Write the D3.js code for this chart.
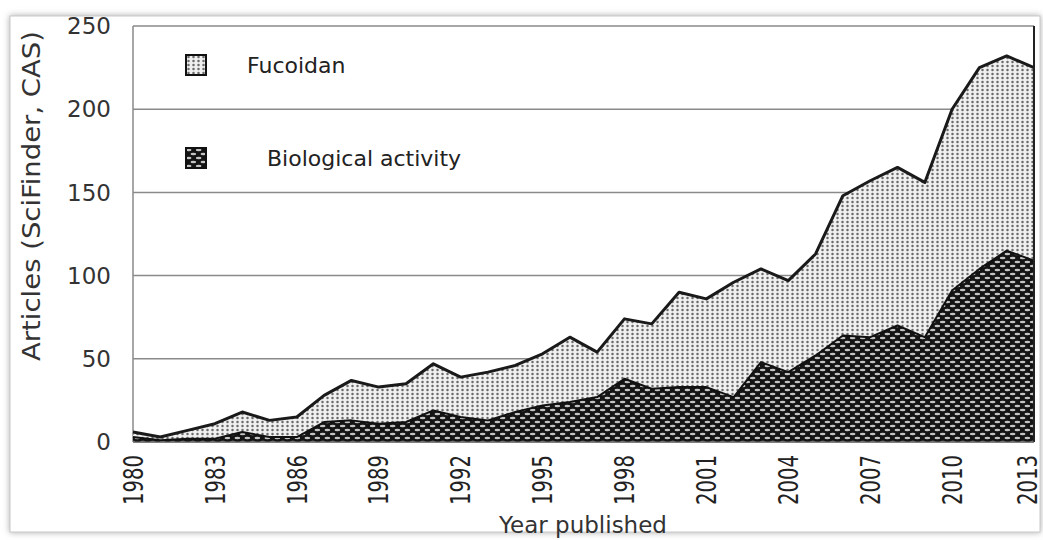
<!DOCTYPE html>
<html>
<head>
<meta charset="utf-8">
<script src="https://cdn.jsdelivr.net/npm/d3@7"></script>
<style>
  body { margin: 0; background: #fff; }
  svg { display: block; }
</style>
</head>
<body>
<svg width="1043" height="540"></svg>
<script>
const width = 1043, height = 540;

const years = d3.range(1980, 2014);
const fucoidan = [6, 3, 7, 11, 18, 13, 15, 28, 37, 33, 35, 47, 39, 42, 46, 53, 63, 54, 74, 71,
  90, 86, 96, 104, 97, 113, 148, 157, 165, 156, 200, 225, 232, 225];
const biological = [3, 1, 2, 2, 6, 3, 3, 12, 13, 11, 12, 19, 15, 13, 18, 22, 24, 27, 38, 32,
  33, 33, 27, 48, 42, 52, 64, 63, 70, 63, 91, 104, 115, 109];
const yTicks = [0, 50, 100, 150, 200, 250];
const xTicks = d3.range(1980, 2014, 3);
const legendLabels = ["Fucoidan", "Biological activity"];

const margin = {top: 26, right: 9, bottom: 98, left: 133};

const x = d3.scaleLinear()
  .domain([1980, 2013])
  .range([margin.left, width - margin.right]);

const y = d3.scaleLinear()
  .domain([0, 250])
  .range([height - margin.bottom, margin.top]);

const svg = d3.select("svg");
const defs = svg.append("defs");

// dotted light pattern for fucoidan
const pf = defs.append("pattern")
  .attr("id", "pat-fuc")
  .attr("patternUnits", "userSpaceOnUse")
  .attr("width", 5).attr("height", 4);
pf.append("rect").attr("width", 5).attr("height", 4).attr("fill", "#f0f0f0");
pf.append("circle").attr("cx", 2.5).attr("cy", 2).attr("r", 1.25).attr("fill", "#6a6a6a");

// dark pattern with light ovals for biological activity
const pb = defs.append("pattern")
  .attr("id", "pat-bio")
  .attr("patternUnits", "userSpaceOnUse")
  .attr("width", 10).attr("height", 8);
pb.append("rect").attr("width", 10).attr("height", 8).attr("fill", "#141414");
pb.append("ellipse").attr("cx", 2.5).attr("cy", 2).attr("rx", 3).attr("ry", 1.3).attr("fill", "#c4c4c4");
pb.append("ellipse").attr("cx", 7.5).attr("cy", 6).attr("rx", 3).attr("ry", 1.3).attr("fill", "#c4c4c4");

const shadow = defs.append("filter").attr("id", "shadow")
  .attr("x", "-5%").attr("y", "-5%").attr("width", "110%").attr("height", "110%");
shadow.append("feDropShadow").attr("dx", 0).attr("dy", 0)
  .attr("stdDeviation", 3).attr("flood-color", "#888").attr("flood-opacity", 0.7);

// picture frame
svg.append("rect")
  .attr("x", 10).attr("y", 16)
  .attr("width", 1030).attr("height", 516)
  .attr("fill", "#fff")
  .attr("stroke", "#c8c8c8")
  .attr("filter", "url(#shadow)");

// gridlines
svg.append("g")
  .selectAll("line")
  .data(yTicks.filter(d => d > 0))
  .join("line")
  .attr("x1", margin.left).attr("x2", width - margin.right)
  .attr("y1", d => y(d)).attr("y2", d => y(d))
  .attr("stroke", "#8a8a8a")
  .attr("stroke-width", 1.5);

// left axis line
svg.append("line")
  .attr("x1", x(1980)).attr("x2", x(1980))
  .attr("y1", y(250)).attr("y2", y(0))
  .attr("stroke", "#8a8a8a").attr("stroke-width", 1.5);

const area = d3.area()
  .x((d, i) => x(years[i]))
  .y0(y(0))
  .y1(d => y(d));

const line = d3.line()
  .x((d, i) => x(years[i]))
  .y(d => y(d));

svg.append("path").datum(fucoidan)
  .attr("d", area)
  .attr("fill", "url(#pat-fuc)");
svg.append("path").datum(fucoidan)
  .attr("d", line)
  .attr("fill", "none").attr("stroke", "#1a1a1a").attr("stroke-width", 3)
  .attr("stroke-linejoin", "round");

svg.append("path").datum(biological)
  .attr("d", area)
  .attr("fill", "url(#pat-bio)");
svg.append("path").datum(biological)
  .attr("d", line)
  .attr("fill", "none").attr("stroke", "#111").attr("stroke-width", 2)
  .attr("stroke-linejoin", "round");

// right edge
svg.append("line")
  .attr("x1", x(2013)).attr("x2", x(2013))
  .attr("y1", y(250)).attr("y2", y(0))
  .attr("stroke", "#222").attr("stroke-width", 2);

// baseline
svg.append("line")
  .attr("x1", x(1980)).attr("x2", x(2013))
  .attr("y1", y(0)).attr("y2", y(0))
  .attr("stroke", "#555").attr("stroke-width", 1.5);

// y tick labels
svg.append("g")
  .selectAll("text")
  .data(yTicks)
  .join("text")
  .attr("x", 111)
  .attr("y", d => y(d))
  .attr("dy", "0.36em")
  .attr("text-anchor", "end")
  .style("font-family", "DejaVu Sans, sans-serif")
  .style("font-size", "23px")
  .attr("fill", "#333")
  .text(d => d);

// x tick labels (rotated)
svg.append("g")
  .selectAll("text")
  .data(xTicks)
  .join("text")
  .attr("transform", d => `translate(${Math.min(x(d), width - 16)},${455}) rotate(-90)`)
  .attr("text-anchor", "end")
  .attr("dy", "0.36em")
  .attr("textLength", 50)
  .attr("lengthAdjust", "spacingAndGlyphs")
  .style("font-family", "DejaVu Sans Condensed, DejaVu Sans, sans-serif")
  .style("font-size", "27px")
  .attr("fill", "#222")
  .text(d => d);

// axis titles
svg.append("text")
  .attr("x", 583).attr("y", 533)
  .attr("text-anchor", "middle")
  .style("font-family", "DejaVu Sans, sans-serif")
  .style("font-size", "23px")
  .attr("fill", "#333")
  .text("Year published");

svg.append("text")
  .attr("transform", `translate(31,${196}) rotate(-90)`)
  .attr("text-anchor", "middle")
  .attr("dy", "0.36em")
  .attr("textLength", 330)
  .attr("lengthAdjust", "spacingAndGlyphs")
  .style("font-family", "DejaVu Sans Condensed, DejaVu Sans, sans-serif")
  .style("font-size", "25px")
  .attr("fill", "#333")
  .text("Articles (SciFinder, CAS)");

// legend
const legend = svg.append("g")
  .selectAll("g")
  .data(legendLabels)
  .join("g")
  .attr("transform", (d, i) => `translate(186,${55 + i * 93})`);

legend.append("rect")
  .attr("width", 20).attr("height", 20)
  .attr("fill", (d, i) => i === 0 ? "url(#pat-fuc)" : "url(#pat-bio)")
  .attr("stroke", "#111").attr("stroke-width", 2);

legend.append("text")
  .attr("x", (d, i) => i === 0 ? 61 : 81)
  .attr("y", 10)
  .attr("dy", "0.36em")
  .style("font-family", "DejaVu Sans, sans-serif")
  .style("font-size", "22px")
  .attr("fill", "#222")
  .text(d => d);
</script>
</body>
</html>
